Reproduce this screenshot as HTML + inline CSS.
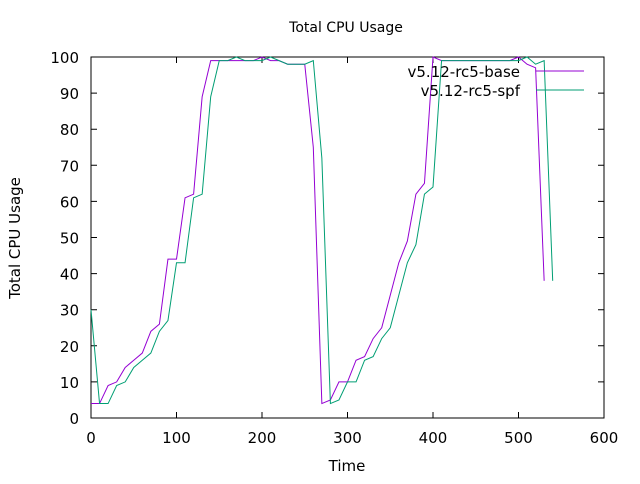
<!DOCTYPE html>
<html><head><meta charset="utf-8"><style>
body{margin:0;background:#fff;font-family:"DejaVu Sans","Liberation Sans",sans-serif;}
svg text{font-family:"DejaVu Sans","Liberation Sans",sans-serif;font-size:15px;fill:#000;}
</style></head><body>
<svg width="640" height="480" xmlns="http://www.w3.org/2000/svg">
<text x="346" y="32" text-anchor="middle" style="font-size:14px">Total CPU Usage</text>
<text x="347" y="471" text-anchor="middle">Time</text>
<text transform="translate(20,238) rotate(-90)" text-anchor="middle">Total CPU Usage</text>
<rect x="91" y="57" width="513" height="361" fill="none" stroke="#000" stroke-width="1"/>
<g id="ticks"></g>
<g id="series"></g>
<g>
<text x="520" y="77" text-anchor="end">v5.12-rc5-base</text>
<line x1="536" y1="71" x2="584" y2="71" stroke="#9400d3"/>
<text x="520" y="96" text-anchor="end">v5.12-rc5-spf</text>
<line x1="536" y1="90" x2="584" y2="90" stroke="#009e73"/>
</g>
</svg>
<script>
const xTicks=[0,100,200,300,400,500,600];
const yTicks=[0,10,20,30,40,50,60,70,80,90,100];
const baseX=[0,10,20,30,40,50,60,70,80,90,100,110,120,130,140,150,160,170,180,190,200,210,220,230,240,250,260,270,280,290,300,310,320,330,340,350,360,370,380,390,400,410,420,430,440,450,460,470,480,490,500,510,520,530];
const baseY=[4,4,9,10,14,16,18,24,26,44,44,61,62,89,99,99,99,99,99,99,100,99,99,98,98,98,75,4,5,10,10,16,17,22,25,34,43,49,62,65,100,99,99,99,99,99,99,99,99,99,100,98,97,38];
const spfX=[0,10,20,30,40,50,60,70,80,90,100,110,120,130,140,150,160,170,180,190,200,210,220,230,240,250,260,270,280,290,300,310,320,330,340,350,360,370,380,390,400,410,420,430,440,450,460,470,480,490,500,510,520,530,540];
const spfY=[30,4,4,9,10,14,16,18,24,27,43,43,61,62,89,99,99,100,99,99,99,100,99,98,98,98,99,72,4,5,10,10,16,17,22,25,34,43,48,62,64,99,99,99,99,99,99,99,99,99,99,100,98,99,38];
const X=v=>91+v*513/600, Y=v=>418-v*361/100;
const ns="http://www.w3.org/2000/svg";
const tg=document.getElementById('ticks');
xTicks.forEach(t=>{
 const l=document.createElementNS(ns,'path');
 l.setAttribute('d',`M${X(t)},418v-6M${X(t)},57v6`);l.setAttribute('stroke','#000');
 
 
 tg.appendChild(l);
 const s=document.createElementNS(ns,'text');
 s.setAttribute('x',X(t));s.setAttribute('y',443);s.setAttribute('text-anchor','middle');s.textContent=t;
 
 
 tg.appendChild(s);
});
yTicks.forEach(t=>{
 const l=document.createElementNS(ns,'path');
 l.setAttribute('d',`M91,${Y(t)}h6M604,${Y(t)}h-6`);l.setAttribute('stroke','#000');
 
 
 tg.appendChild(l);
 const s=document.createElementNS(ns,'text');
 s.setAttribute('x',79);s.setAttribute('y',Y(t)+6);s.setAttribute('text-anchor','end');s.textContent=t;
 
 
 tg.appendChild(s);
});
const sg=document.getElementById('series');
function line(xs,ys,c,name){
 const p=document.createElementNS(ns,'polyline');
 p.setAttribute('points',xs.map((x,i)=>X(x)+','+Y(ys[i])).join(' '));
 p.setAttribute('fill','none');p.setAttribute('stroke',c);p.setAttribute('stroke-width','1');
 
 
 sg.appendChild(p);
}
line(baseX,baseY,'#9400d3','series-base');
line(spfX,spfY,'#009e73','series-spf');
</script>
</body></html>
